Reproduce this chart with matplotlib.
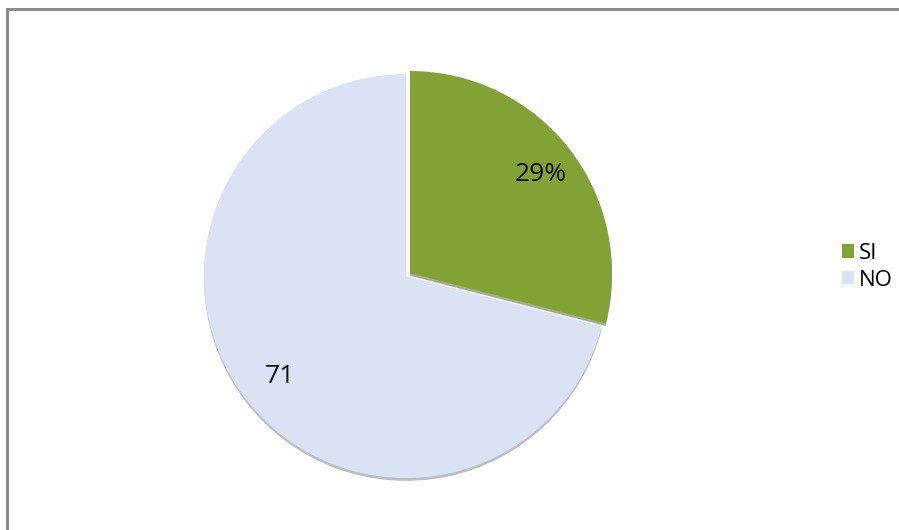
import numpy as np
import matplotlib
matplotlib.use('Agg')
import matplotlib.pyplot as plt
from matplotlib.patches import Rectangle

categories = ['SI', 'NO']
values = [29, 71]
slice_labels = ['29%', '71']
colors = ['#82A236', '#DAE2F3']

W, H = 899, 530
fig = plt.figure(figsize=(W / 100, H / 100), dpi=100)
ax = fig.add_axes([0, 0, 1, 1])

cx, cy, r = 410, H - 273, 202
wedges, texts = ax.pie(values, labels=slice_labels, colors=colors, startangle=90,
                       counterclock=False, explode=[0, 5],
                       center=(cx, cy), radius=r, labeldistance=0.8,
                       shadow=dict(ox=0, oy=-2, shade=0.45),
                       wedgeprops=dict(linewidth=0),
                       textprops=dict(fontsize=19, family='Open Sans', color='#111111'))

# put each label along its wedge's mid-angle, like Excel does
label_dist = [0.82, 0.79]
for w, t, d in zip(wedges, texts, label_dist):
    ang = np.deg2rad((w.theta1 + w.theta2) / 2)
    wx, wy = w.center
    t.set_position((wx + d * r * np.cos(ang), wy + d * r * np.sin(ang)))
    t.set_ha('center')
    t.set_va('center_baseline')

ax.set_xlim(0, W)
ax.set_ylim(0, H)
ax.set_aspect('equal')
ax.axis('off')

# chart area border (only top and left visible in the reference)
fig.patches.append(Rectangle((7 / W, -0.1), 1.2, (H - 9) / H + 0.1, transform=fig.transFigure,
                             fill=False, edgecolor='#8C8C8C', linewidth=2.2))

leg = fig.legend(wedges, categories, loc='upper left', bbox_to_anchor=(842 / W, 1 - 243 / H),
                 frameon=False, borderpad=0, borderaxespad=0, handlelength=0.55,
                 handleheight=0.55, handletextpad=0.2, labelspacing=0.25,
                 prop=dict(family='Open Sans', size=16))

fig.savefig('out.png', dpi=100, facecolor='white')
